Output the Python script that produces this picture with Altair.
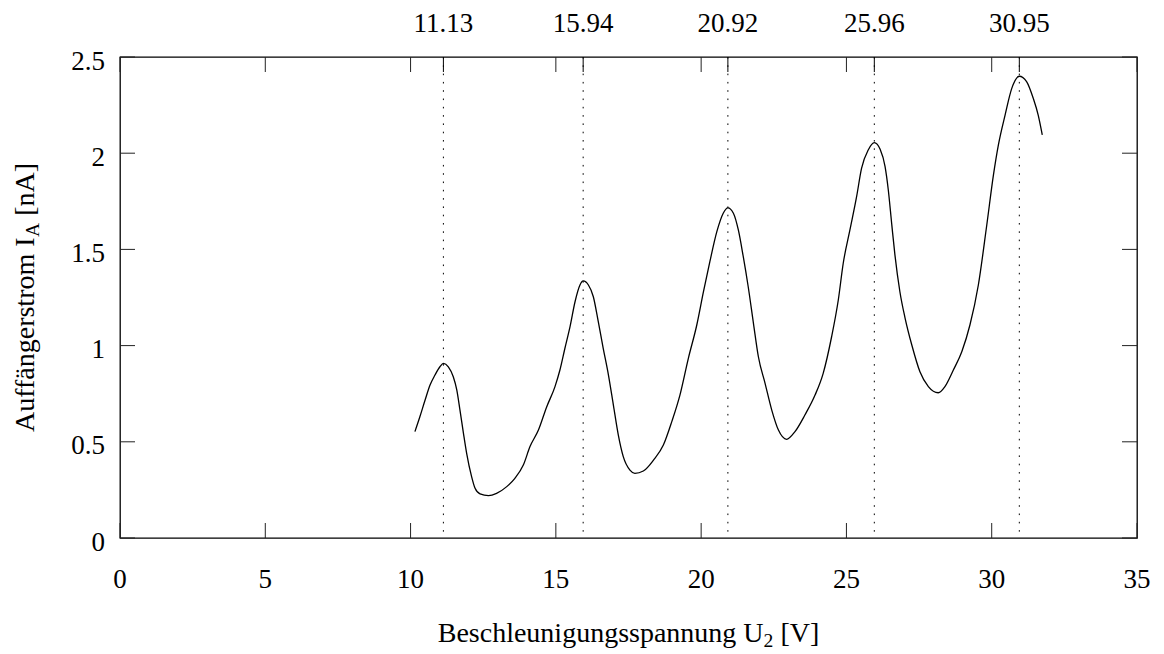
import altair as alt
import pandas as pd

# Franck-Hertz curve: collector current vs. accelerating voltage
u2 = [10.15, 10.32, 10.50, 10.67, 10.84, 11.01, 11.13, 11.30, 11.47, 11.59,
      11.70, 11.82, 11.93, 12.10, 12.22, 12.39, 12.68, 12.96, 13.31, 13.59,
      13.88, 14.11, 14.40, 14.68, 14.97, 15.14, 15.31, 15.49, 15.66, 15.83,
      15.94, 16.12, 16.29, 16.46, 16.63, 16.81, 16.98, 17.15, 17.32, 17.55,
      17.72, 18.01, 18.36, 18.70, 18.99, 19.27, 19.56, 19.85, 20.08, 20.30,
      20.54, 20.76, 20.92, 21.11, 21.28, 21.45, 21.62, 21.80, 21.97, 22.20,
      22.43, 22.66, 22.94, 23.23, 23.57, 23.92, 24.20, 24.49, 24.72, 24.89,
      25.12, 25.35, 25.52, 25.75, 25.96, 26.16, 26.33, 26.44, 26.56, 26.67,
      26.84, 27.02, 27.25, 27.53, 27.82, 28.16, 28.39, 28.68, 28.97, 29.25,
      29.54, 29.83, 30.06, 30.23, 30.46, 30.69, 30.95, 31.20, 31.43, 31.60, 31.74]
i_a = [0.553, 0.630, 0.717, 0.795, 0.847, 0.890, 0.908, 0.890, 0.838, 0.770,
       0.665, 0.544, 0.440, 0.319, 0.258, 0.229, 0.220, 0.232, 0.267, 0.310,
       0.379, 0.475, 0.561, 0.680, 0.787, 0.873, 0.985, 1.100, 1.228, 1.315,
       1.336, 1.315, 1.254, 1.124, 0.986, 0.847, 0.691, 0.535, 0.423, 0.353,
       0.336, 0.348, 0.405, 0.483, 0.605, 0.743, 0.934, 1.107, 1.280, 1.436,
       1.592, 1.688, 1.716, 1.688, 1.601, 1.462, 1.306, 1.116, 0.942, 0.804,
       0.665, 0.561, 0.513, 0.553, 0.639, 0.743, 0.856, 1.046, 1.237, 1.428,
       1.601, 1.774, 1.921, 2.017, 2.055, 2.020, 1.930, 1.810, 1.630, 1.470,
       1.280, 1.142, 1.003, 0.864, 0.787, 0.755, 0.787, 0.873, 0.968, 1.107,
       1.315, 1.627, 1.887, 2.043, 2.198, 2.337, 2.400, 2.372, 2.285, 2.198, 2.095]

# Maxima positions marked on the top edge
peaks = [11.13, 15.94, 20.92, 25.96, 30.95]
peak_labels = ["11.13", "15.94", "20.92", "25.96", "30.95"]

x_ticks = [0, 5, 10, 15, 20, 25, 30, 35]
x_tick_labels = ["0", "5", "10", "15", "20", "25", "30", "35"]
y_ticks = [0, 0.5, 1.0, 1.5, 2.0, 2.5]
y_tick_labels = ["0", "0.5", "1", "1.5", "2", "2.5"]

FONT = "'Liberation Serif', 'Times New Roman', 'DejaVu Serif', serif"
W, H = 1017, 481
TICK = 15
LABEL_SIZE = 27
TITLE_SIZE = 28
SUB_SIZE = TITLE_SIZE * 0.7

xs = alt.Scale(domain=[0, 35], nice=False, zero=False)
ys = alt.Scale(domain=[0, 2.5], nice=False)

curve_df = pd.DataFrame({"u": u2, "i": i_a})
peak_df = pd.DataFrame({"u": peaks, "label": peak_labels})
xt_df = pd.DataFrame({"u": x_ticks, "label": x_tick_labels})
yt_df = pd.DataFrame({"i": y_ticks, "label": y_tick_labels})
one = pd.DataFrame({"k": [0]})

X = lambda: alt.X("u:Q", scale=xs, axis=None)
Y = lambda: alt.Y("i:Q", scale=ys, axis=None)

curve = alt.Chart(curve_df).mark_line(
    color="black", strokeWidth=1.3, interpolate="monotone"
).encode(x=X(), y=Y())

# dotted verticals at the maxima
peak_lines = alt.Chart(peak_df).mark_rule(
    color="black", strokeWidth=1, strokeDash=[1.6, 6.7]
).encode(x=X(), y=alt.value(0), y2=alt.value(H))

peak_ticks = alt.Chart(peak_df).mark_rule(color="black", strokeWidth=1).encode(
    x=X(), y=alt.value(0), y2=alt.value(TICK))

peak_text = alt.Chart(peak_df).mark_text(
    font=FONT, fontSize=LABEL_SIZE, baseline="alphabetic", align="center", color="black"
).encode(x=X(), y=alt.value(-25), text="label:N")

# inward ticks on all four sides
bottom_ticks = alt.Chart(xt_df).mark_rule(color="#222", strokeWidth=1).encode(
    x=X(), y=alt.value(H), y2=alt.value(H - TICK))
top_ticks = alt.Chart(xt_df).mark_rule(color="#222", strokeWidth=1).encode(
    x=X(), y=alt.value(0), y2=alt.value(TICK))
left_ticks = alt.Chart(yt_df).mark_rule(color="#222", strokeWidth=1).encode(
    y=Y(), x=alt.value(0), x2=alt.value(TICK))
right_ticks = alt.Chart(yt_df).mark_rule(color="#222", strokeWidth=1).encode(
    y=Y(), x=alt.value(W), x2=alt.value(W - TICK))

x_labels = alt.Chart(xt_df).mark_text(
    font=FONT, fontSize=LABEL_SIZE, baseline="alphabetic", align="center", color="black"
).encode(x=X(), y=alt.value(H + 50), text="label:N")

y_labels = alt.Chart(yt_df).mark_text(
    font=FONT, fontSize=LABEL_SIZE, baseline="alphabetic", align="right",
    color="black", dy=12.5
).encode(y=Y(), x=alt.value(-15), text="label:N")

# axis titles with subscripts (advance widths in em for a Times-metric face)
em = TITLE_SIZE
space = 0.25 * em
x_main, x_sub, x_tail = 11.638 * em, 0.35 * em, 1.388 * em
x0 = W / 2 - (x_main + x_sub + space + x_tail) / 2
xb = 585


def piece(text, x, y, size, angle=0):
    kw = dict(text=text, font=FONT, fontSize=size, baseline="alphabetic",
              align="left", color="black")
    if angle:
        kw["angle"] = angle
    return alt.Chart(one).mark_text(**kw).encode(x=alt.value(x), y=alt.value(y))


x_title = [
    piece("Beschleunigungsspannung U", x0, xb, TITLE_SIZE),
    piece("2", x0 + x_main, xb + 5, SUB_SIZE),
    piece("[V]", x0 + x_main + x_sub + space, xb, TITLE_SIZE),
]

y_main, y_sub, y_tail = 6.97 * em, 0.505 * em, 1.888 * em
y0 = H / 2 + (y_main + y_sub + space + y_tail) / 2
yb = -86.5
y_title = [
    piece("Auffängerstrom I", yb, y0, TITLE_SIZE, 270),
    piece("A", yb + 5, y0 - y_main, SUB_SIZE, 270),
    piece("[nA]", yb, y0 - y_main - y_sub - space, TITLE_SIZE, 270),
]

chart = alt.layer(
    peak_lines, peak_ticks, bottom_ticks, top_ticks, left_ticks, right_ticks,
    curve, peak_text, x_labels, y_labels, *x_title, *y_title
).properties(
    width=W, height=H,
    padding={"left": 120, "top": 57, "right": 27, "bottom": 116},
    autosize=alt.AutoSizeParams(type="none"),
    background="white",
).configure_view(stroke="black", strokeWidth=1.3)

chart.save("out.html", embed_options={"renderer": "svg", "actions": False})
